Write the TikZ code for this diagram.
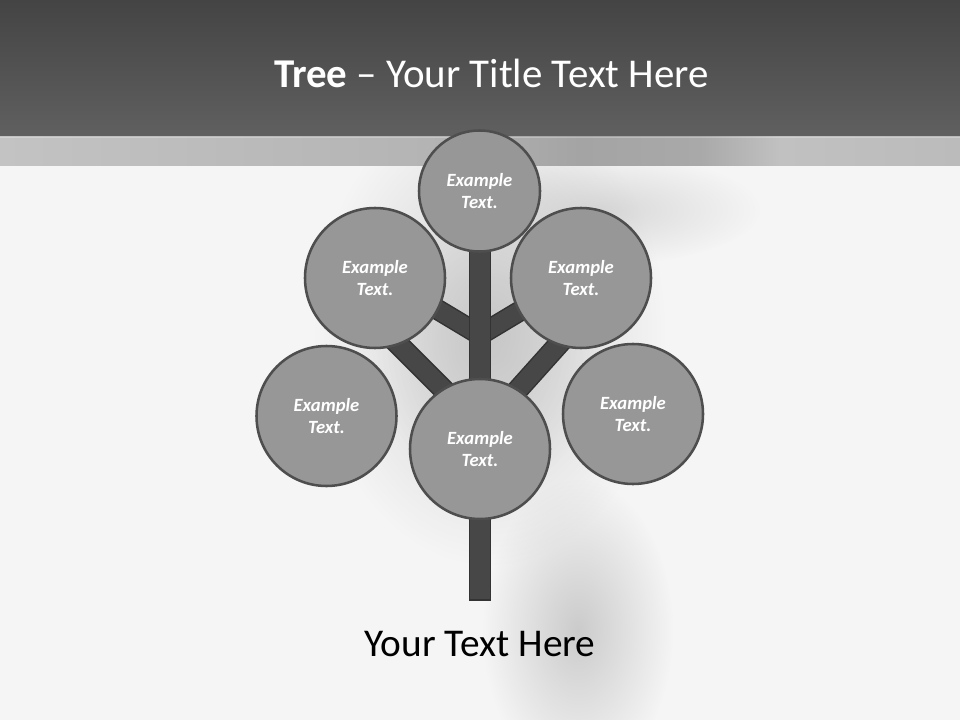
\documentclass[tikz,border=0pt]{standalone}
\usepackage{fontspec}
\setmainfont{Carlito}
\usetikzlibrary{calc,fadings}
\definecolor{bgbase}{HTML}{F5F5F5}
\definecolor{bartop}{HTML}{444444}
\definecolor{barbot}{HTML}{606060}
\definecolor{bandA}{HTML}{C3C3C3}
\definecolor{bandB}{HTML}{B4B4B4}
\definecolor{bandC}{HTML}{A4A4A4}
\definecolor{bandD}{HTML}{A9A9A9}
\definecolor{bandE}{HTML}{C1C1C1}
\definecolor{bandF}{HTML}{BBBBBB}
\definecolor{shadowc}{HTML}{C4C4C4}
\definecolor{wood}{HTML}{474747}
\definecolor{woodedge}{HTML}{333333}
\definecolor{leaf}{HTML}{979797}
\definecolor{leafedge}{HTML}{4E4E4E}
\tikzfading[name=softblob, inner color=transparent!15, outer color=transparent!100]
\tikzset{
  leafnode/.style={circle, draw=leafedge, line width=1.9pt, fill=leaf, inner sep=0pt,
     minimum size=105pt, text=white, align=center,
     font=\fontsize{14}{17}\selectfont\bfseries\itshape},
  toplnode/.style={leafnode, minimum size=90.75pt},
  branch/.style={draw=woodedge, line width=1.1pt, double=wood, double distance=#1, line cap=butt},
  trunkbox/.style={draw=woodedge, line width=1.3pt, fill=wood},
  softshadow/.style={fill=shadowc, path fading=softblob, fill opacity=#1},
}
\begin{document}
\begin{tikzpicture}[x=0.75pt,y=-0.75pt]
\useasboundingbox (0,0) rectangle (960,720);
% background
\fill[bgbase] (0,0) rectangle (960,720);
\fill[softshadow=0.9] (490,330) ellipse [x radius=175, y radius=235];
\fill[softshadow=0.8] (488,345) ellipse [x radius=110, y radius=150];
\fill[softshadow=1] (578,630) ellipse [x radius=95, y radius=150];
\fill[softshadow=0.7] (600,210) ellipse [x radius=160, y radius=55];
% title bar and band
\shade[top color=bartop, bottom color=barbot] (0,0) rectangle (960,137);
\shade[left color=bandA, right color=bandB] (0,137) rectangle (430.5,166);
\shade[left color=bandB, right color=bandC] (430,137) rectangle (580.5,166);
\shade[left color=bandC, right color=bandD] (580,137) rectangle (700.5,166);
\shade[left color=bandD, right color=bandE] (700,137) rectangle (780.5,166);
\shade[left color=bandE, right color=bandF] (780,137) rectangle (960,166);
\fill[white, opacity=0.25] (0,137) rectangle (960,138.5);
% titles
\node[anchor=base, text=white, font=\fontsize{30.7}{37}\selectfont] (title) at (491.5,88) {\textbf{Tree} – Your Title Text Here};
\node[anchor=base, text=black, font=\fontsize{29.5}{35}\selectfont] (caption) at (480,656) {Your Text Here};
% anchor coordinates for the wood
\coordinate (jt) at (480,335);
\coordinate (jb) at (480,426);
\coordinate (jbr) at (480,432);
\coordinate (ul) at (415,296);
\coordinate (ur) at (545,296);
\coordinate (ll) at (385,331);
\coordinate (lr) at (575,326);
\coordinate (ttop) at (480,250);
\coordinate (tbot) at (480,600);
% branches
\draw[branch=13.5pt] (jt) -- (ul);
\draw[branch=13.5pt] (jt) -- (ur);
\draw[branch=14pt] (jb) -- (ll);
\draw[branch=14pt] (jbr) -- (lr);
% trunk
\draw[trunkbox] ($(ttop)+(-10.5,0)$) rectangle ($(tbot)+(10.5,0)$);
% leaves
\node[toplnode] (top) at (479.5,191) {Example\\Text.};
\node[leafnode] (upl) at (375,278) {Example\\Text.};
\node[leafnode] (upr) at (581,278) {Example\\Text.};
\node[leafnode] (lowl) at (326.5,416) {Example\\Text.};
\node[leafnode] (lowr) at (633,414) {Example\\Text.};
\node[leafnode] (bot) at (480,449) {Example\\Text.};
\end{tikzpicture}
\end{document}
